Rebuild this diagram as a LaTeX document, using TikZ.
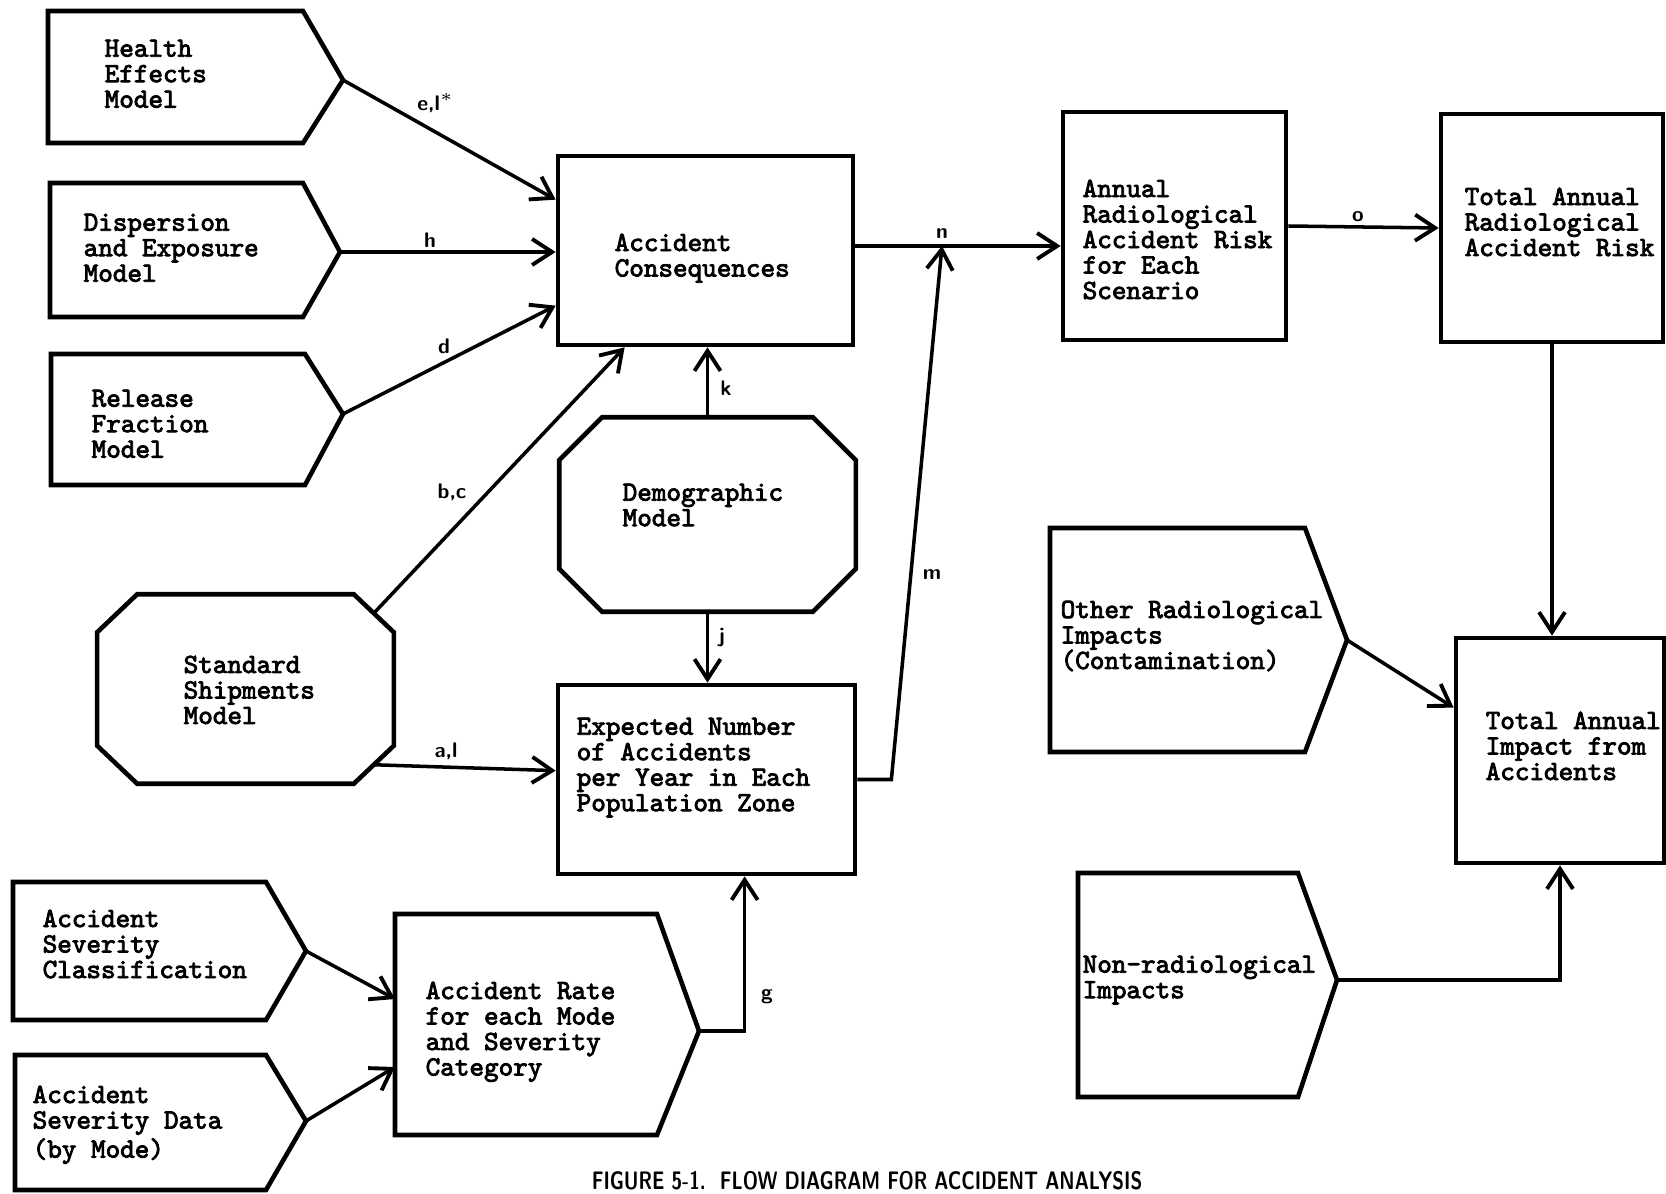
\documentclass[tikz,border=0pt]{standalone}
\usepackage{fontspec}
\newfontfamily\twfont{lmmono10-regular.otf}[FakeBold=3]
\usetikzlibrary{arrows.meta,calc}
\tikzset{
  blk/.style={draw, line width=1.3pt, inner sep=0pt},
  octbox/.style={inner sep=0pt},
  txt/.style={font=\twfont\fontsize{7.9}{7.25}\selectfont, align=left, anchor=north west, inner sep=0pt},
  lbl/.style={font=\sffamily\bfseries\fontsize{6}{7}\selectfont, inner sep=0pt},
  flow/.style={line width=1pt, -{Straight Barb[length=2mm,width=2.6mm,line width=1.1pt]}}
}
\begin{document}
\begin{tikzpicture}[x=0.01cm,y=-0.01cm]
\useasboundingbox (0,0) rectangle (1666,1194);

% Input models (pointed boxes)
\draw[line width=1.3pt] (48,11) -- (303,11) -- (343,80) -- (303,143) -- (48,143) -- cycle;
\coordinate (he-tip) at (343,80);
\node[txt] (he) at (104,39) {Health\\Effects\\Model};
\draw[line width=1.3pt] (50,183) -- (303,183) -- (340,252) -- (303,317) -- (50,317) -- cycle;
\coordinate (de-tip) at (340,252);
\node[txt] (de) at (83,213) {Dispersion\\and Exposure\\Model};
\draw[line width=1.3pt] (51,354) -- (305,354) -- (343,414) -- (305,485) -- (51,485) -- cycle;
\coordinate (rf-tip) at (343,414);
\node[txt] (rf) at (91,389) {Release\\Fraction\\Model};

% Accident severity inputs
\draw[line width=1.3pt] (13,882) -- (266,882) -- (306,951) -- (266,1020) -- (13,1020) -- cycle;
\coordinate (sc-tip) at (306,951);
\node[txt] (sc) at (42,909) {Accident\\Severity\\Classification};
\draw[line width=1.3pt] (15,1055) -- (266,1055) -- (306,1121) -- (266,1190) -- (15,1190) -- cycle;
\coordinate (sd-tip) at (306,1121);
\node[txt] (sd) at (32,1085) {Accident\\Severity Data\\(by Mode)};
\draw[line width=1.3pt] (395,914) -- (657,914) -- (699,1031) -- (657,1135) -- (395,1135) -- cycle;
\coordinate (ar-tip) at (699,1031);
\node[txt] (ar) at (425,981) {Accident Rate\\for each Mode\\and Severity\\Category};

% Models in octagons
\node[octbox, minimum width=2.95cm, minimum height=1.93cm] (dm) at (707.5,514.5) {};
\draw[line width=1.3pt] ($(dm.north west)+(43,0)$) -- ($(dm.north east)+(-43,0)$) -- ($(dm.north east)+(0,43)$)
  -- ($(dm.south east)+(0,-43)$) -- ($(dm.south east)+(-43,0)$) -- ($(dm.south west)+(43,0)$)
  -- ($(dm.south west)+(0,-43)$) -- ($(dm.north west)+(0,43)$) -- cycle;
\node[txt] (dm-t) at (622,483) {Demographic\\Model};
\node[octbox, minimum width=2.95cm, minimum height=1.88cm] (ss) at (245.5,689) {};
\draw[line width=1.3pt] ($(ss.north west)+(40,0)$) -- ($(ss.north east)+(-40,0)$) -- ($(ss.north east)+(0,38)$)
  -- ($(ss.south east)+(0,-38)$) -- ($(ss.south east)+(-40,0)$) -- ($(ss.south west)+(40,0)$)
  -- ($(ss.south west)+(0,-38)$) -- ($(ss.north west)+(0,38)$) -- cycle;
\coordinate (ss-ne) at ($(ss.north east)+(-20,19)$);
\coordinate (ss-se) at ($(ss.south east)+(-20,-19)$);
\node[txt] (ss-t) at (183,655) {Standard\\Shipments\\Model};

% Calculation boxes
\node[blk, minimum width=2.95cm, minimum height=1.89cm] (ac) at (705.5,250.5) {};
\node[txt] (ac-t) at (614,233) {Accident\\Consequences};
\node[blk, minimum width=2.97cm, minimum height=1.89cm] (en) at (706.5,779.5) {};
\node[txt] (en-t) at (576,717) {Expected Number\\of Accidents\\per Year in Each\\Population Zone};
\node[blk, minimum width=2.23cm, minimum height=2.28cm] (an) at (1174.5,226) {};
\node[txt] (an-t) at (1082,179) {Annual\\Radiological\\Accident Risk\\for Each\\Scenario};
\node[blk, minimum width=2.22cm, minimum height=2.28cm] (tr) at (1552,228) {};
\node[txt] (tr-t) at (1464,187) {Total Annual\\Radiological\\Accident Risk};

% Impacts
\draw[line width=1.3pt] (1050,528) -- (1305,528) -- (1347,640) -- (1305,752) -- (1050,752) -- cycle;
\coordinate (or-tip) at (1347,640);
\node[txt] (or) at (1060,600) {Other Radiological\\Impacts\\(Contamination)};
\draw[line width=1.3pt] (1078,873) -- (1298,873) -- (1337,980) -- (1298,1097) -- (1078,1097) -- cycle;
\coordinate (nr-tip) at (1337,980);
\node[txt] (nr) at (1082,955) {Non-radiological\\Impacts};
\node[blk, minimum width=2.08cm, minimum height=2.25cm] (ti) at (1560,750.5) {};
\node[txt] (ti-t) at (1485,711) {Total Annual\\Impact from\\Accidents};

% Flows into accident consequences
\draw[flow] (he-tip) -- ($(ac.north west)+(0,46)$);
\draw[flow] (de-tip) -- (de-tip -| ac.west);
\draw[flow] (rf-tip) -- ($(ac.north west)+(0,152)$);
\draw[flow] (ss-ne) -- ($(ac.south west)+(69,0)$);
\draw[flow] (dm.north) -- (dm.north |- ac.south);
\draw[flow] (dm.south) -- (dm.south |- en.north);
\draw[flow] (ss-se) -- ($(en.north west)+(0,88)$);
\draw[flow] (sc-tip) -- (395,999);
\draw[flow] (sd-tip) -- (395,1067);
\draw[flow] (ar-tip) -| ($(en.south west)+(189,0)$);

% Flows to the risk and impact boxes
\coordinate (jn) at (942,246);
\draw[flow] (ac.east |- jn) -- (jn -| an.west);
\draw[flow] (en.east) -- ++(34,0) -- (jn);
\draw[flow] (an.east) -- (tr.west);
\draw[flow] (tr.south) -- (tr.south |- ti.north);
\draw[flow] (or-tip) -- ($(ti.north west)+(0,72)$);
\draw[flow] (nr-tip) -| (ti.south);

% Flow labels
\node[lbl] (l-el) at (436,103) {e,l$^{\ast}$};
\node[lbl] (l-h) at (430,240) {h};
\node[lbl] (l-d) at (444,346) {d};
\node[lbl] (l-bc) at (452,492) {b,c};
\node[lbl] (l-al) at (446,751) {a,l};
\node[lbl] (l-k) at (726,388) {k};
\node[lbl] (l-j) at (722,638) {j};
\node[lbl] (l-n) at (942,234) {n};
\node[lbl] (l-m) at (932,575) {m};
\node[lbl] (l-g) at (767,997) {g};
\node[lbl] (l-o) at (1358,217) {o};

% Caption
\node[font=\sffamily\bfseries\fontsize{7.2}{8}\selectfont, inner sep=0pt] (cap) at (867,1181)
  {\scalebox{0.76}[1]{FIGURE 5-1.\ \ FLOW DIAGRAM FOR ACCIDENT ANALYSIS}};
\end{tikzpicture}
\end{document}
